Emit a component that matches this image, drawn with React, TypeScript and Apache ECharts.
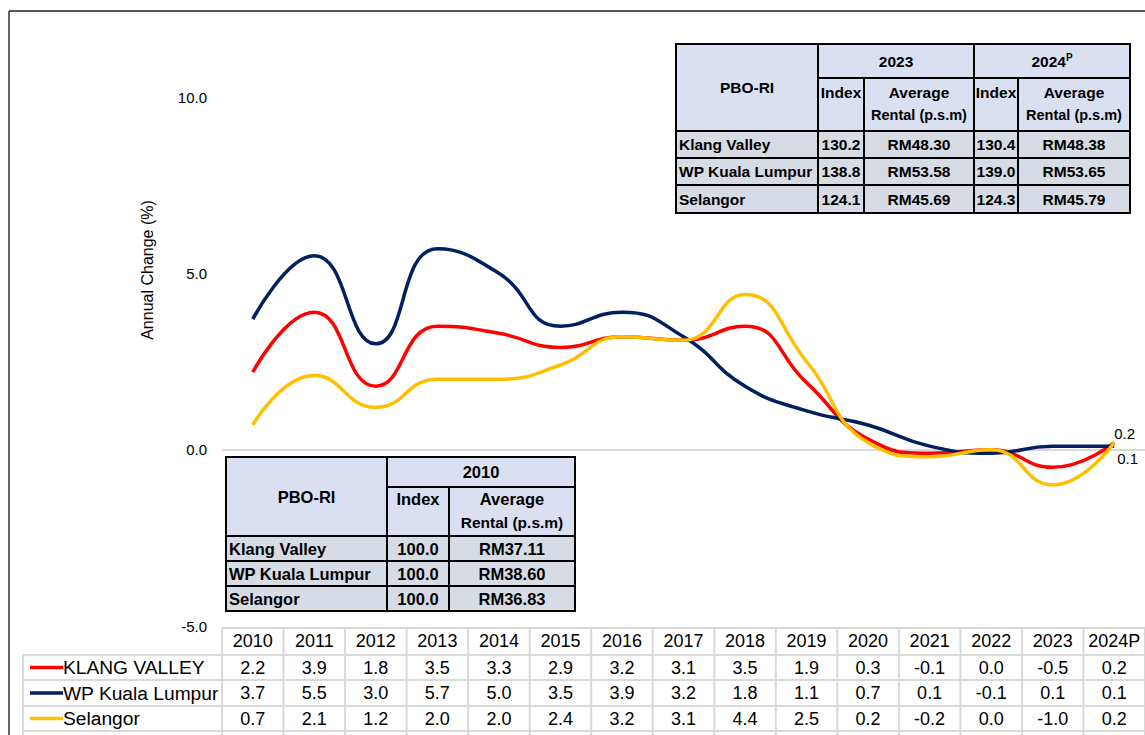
import React, { useEffect, useRef } from "react";
import * as echarts from "echarts";

// Annual change (%) of the purpose-built office rental index
const CATEGORIES = ["2010", "2011", "2012", "2013", "2014", "2015", "2016", "2017", "2018", "2019", "2020", "2021", "2022", "2023", "2024P"];
const KLANG_VALLEY = [2.2, 3.9, 1.8, 3.5, 3.3, 2.9, 3.2, 3.1, 3.5, 1.9, 0.3, -0.1, 0.0, -0.5, 0.2];
const WP_KUALA_LUMPUR = [3.7, 5.5, 3.0, 5.7, 5.0, 3.5, 3.9, 3.2, 1.8, 1.1, 0.7, 0.1, -0.1, 0.1, 0.1];
const SELANGOR = [0.7, 2.1, 1.2, 2.0, 2.0, 2.4, 3.2, 3.1, 4.4, 2.5, 0.2, -0.2, 0.0, -1.0, 0.2];
const SERIES_NAMES = ["KLANG VALLEY", "WP Kuala Lumpur", "Selangor"];
const SERIES_COLORS = ["#ff0000", "#002060", "#ffc000"];
const Y_MIN = -5;
const Y_MAX = 10;
const Y_STEP = 5;

// Index / average rental tables
const REGIONS = ["Klang Valley", "WP Kuala Lumpur", "Selangor"];
const INDEX_2010 = [100.0, 100.0, 100.0];
const RENTAL_2010 = ["RM37.11", "RM38.60", "RM36.83"];
const INDEX_2023 = [130.2, 138.8, 124.1];
const RENTAL_2023 = ["RM48.30", "RM53.58", "RM45.69"];
const INDEX_2024 = [130.4, 139.0, 124.3];
const RENTAL_2024 = ["RM48.38", "RM53.65", "RM45.79"];

const W = 1145;
const H = 735;
const FONT = "'Liberation Sans', Arial, sans-serif";
const HEAD_FILL = "#dae0f2";
const BODY_FILL = "#d6dbe4";

const rect = (x0: number, y0: number, x1: number, y1: number, fill: string) => ({
  type: "rect",
  silent: true,
  z: 10,
  shape: { x: x0, y: y0, width: x1 - x0, height: y1 - y0 },
  style: { fill, stroke: "#000", lineWidth: 2 },
});

const text = (x: number, y: number, t: string, o: any = {}) => ({
  type: "text",
  silent: true,
  z: 11,
  x,
  y,
  style: {
    text: t,
    fill: "#000",
    fontFamily: FONT,
    fontSize: o.size ?? 15,
    fontWeight: o.weight ?? "bold",
    align: o.align ?? "center",
    verticalAlign: "middle",
    rich: o.rich,
  },
});

const hline = (x0: number, x1: number, y: number, color: string, w = 2) => ({
  type: "line",
  silent: true,
  shape: { x1: x0, y1: y, x2: x1, y2: y },
  style: { stroke: color, lineWidth: w },
});
const vline = (x: number, y0: number, y1: number, color: string, w = 2) => ({
  type: "line",
  silent: true,
  shape: { x1: x, y1: y0, x2: x, y2: y1 },
  style: { stroke: color, lineWidth: w },
});

// Upper-right table: 2023 and 2024P
function topTable(): any[] {
  const xs = [676, 818, 864, 974, 1018, 1130];
  const ys = [44, 78, 131, 158, 185, 213];
  const g: any[] = [];
  const size = 15.5;
  g.push(rect(xs[0], ys[0], xs[1], ys[2], HEAD_FILL));
  g.push(rect(xs[1], ys[0], xs[3], ys[1], HEAD_FILL));
  g.push(rect(xs[3], ys[0], xs[5], ys[1], HEAD_FILL));
  for (let c = 1; c < 5; c++) g.push(rect(xs[c], ys[1], xs[c + 1], ys[2], HEAD_FILL));
  g.push(text((xs[0] + xs[1]) / 2, 87, "PBO-RI", { size }));
  g.push(text((xs[1] + xs[3]) / 2, 61, "2023", { size }));
  g.push(
    text((xs[3] + xs[5]) / 2, 61, "{a|2024}{s|P}", {
      size,
      rich: {
        a: { fontSize: size, fontWeight: "bold", fontFamily: FONT, lineHeight: 18 },
        s: { fontSize: 10, fontWeight: "bold", fontFamily: FONT, verticalAlign: "top", lineHeight: 18, padding: [0, 0, 10, 0] },
      },
    })
  );
  for (const c of [1, 3]) {
    g.push(text((xs[c] + xs[c + 1]) / 2, 92, "Index", { size }));
    g.push(text((xs[c + 1] + xs[c + 2]) / 2, 92, "Average", { size }));
    g.push(text((xs[c + 1] + xs[c + 2]) / 2, 115, "Rental (p.s.m)", { size: 14.5 }));
  }
  REGIONS.forEach((r, i) => {
    const y0 = ys[2 + i];
    const y1 = ys[3 + i];
    const cy = (y0 + y1) / 2;
    for (let c = 0; c < 5; c++) g.push(rect(xs[c], y0, xs[c + 1], y1, BODY_FILL));
    g.push(text(xs[0] + 3, cy, r, { size, align: "left" }));
    g.push(text((xs[1] + xs[2]) / 2, cy, INDEX_2023[i].toFixed(1), { size }));
    g.push(text((xs[2] + xs[3]) / 2, cy, RENTAL_2023[i], { size }));
    g.push(text((xs[3] + xs[4]) / 2, cy, INDEX_2024[i].toFixed(1), { size }));
    g.push(text((xs[4] + xs[5]) / 2, cy, RENTAL_2024[i], { size }));
  });
  return g;
}

// Lower-left table: 2010 base year
function baseTable(): any[] {
  const xs = [226, 387, 449, 575];
  const ys = [457, 487, 536, 561, 586, 611];
  const g: any[] = [];
  const size = 16.5;
  g.push(rect(xs[0], ys[0], xs[1], ys[2], HEAD_FILL));
  g.push(rect(xs[1], ys[0], xs[3], ys[1], HEAD_FILL));
  g.push(rect(xs[1], ys[1], xs[2], ys[2], HEAD_FILL));
  g.push(rect(xs[2], ys[1], xs[3], ys[2], HEAD_FILL));
  g.push(text((xs[0] + xs[1]) / 2, 497, "PBO-RI", { size }));
  g.push(text((xs[1] + xs[3]) / 2, 472, "2010", { size }));
  g.push(text((xs[1] + xs[2]) / 2, 499, "Index", { size }));
  g.push(text((xs[2] + xs[3]) / 2, 499, "Average", { size }));
  g.push(text((xs[2] + xs[3]) / 2, 522, "Rental (p.s.m)", { size: 15.5 }));
  REGIONS.forEach((r, i) => {
    const y0 = ys[2 + i];
    const y1 = ys[3 + i];
    const cy = (y0 + y1) / 2;
    for (let c = 0; c < 3; c++) g.push(rect(xs[c], y0, xs[c + 1], y1, BODY_FILL));
    g.push(text(xs[0] + 3, cy, r, { size, align: "left" }));
    g.push(text((xs[1] + xs[2]) / 2, cy, INDEX_2010[i].toFixed(1), { size }));
    g.push(text((xs[2] + xs[3]) / 2, cy, RENTAL_2010[i], { size }));
  });
  return g;
}

// Data table under the plot, columns follow the category axis
function dataTable(chart: echarts.ECharts): any[] {
  const c0 = chart.convertToPixel({ xAxisIndex: 0 }, 0) as number;
  const c1 = chart.convertToPixel({ xAxisIndex: 0 }, 1) as number;
  const step = c1 - c0;
  const left = c0 - step / 2;
  const right = left + step * CATEGORIES.length;
  const grey = "#d9d9d9";
  const rowsY = [655, 680, 706, 731];
  const g: any[] = [];
  g.push(hline(left, right, 628, grey));
  rowsY.forEach((y) => g.push(hline(23, right, y, grey)));
  for (let k = 0; k <= CATEGORIES.length; k++) g.push(vline(left + k * step, 628, H, grey));
  g.push(vline(23, 655, H, grey));
  const rows = [KLANG_VALLEY, WP_KUALA_LUMPUR, SELANGOR];
  rows.forEach((vals, r) => {
    const cy = (rowsY[r] + (rowsY[r + 1] ?? 757)) / 2;
    g.push(hline(30, 63, cy, SERIES_COLORS[r], 3.5));
    g.push(text(63, cy, SERIES_NAMES[r], { size: 19.2, weight: "normal", align: "left" }));
    vals.forEach((v, i) => {
      const cx = chart.convertToPixel({ xAxisIndex: 0 }, i) as number;
      g.push(text(cx, cy, v.toFixed(1), { size: 18, weight: "normal" }));
    });
  });
  return g;
}

export default function App() {
  const ref = useRef<HTMLDivElement>(null);
  useEffect(() => {
    if (!ref.current) return;
    const chart = echarts.init(ref.current, undefined, { renderer: "svg" });
    const seriesData = [KLANG_VALLEY, WP_KUALA_LUMPUR, SELANGOR];
    const endLabels = [
      { show: true, formatter: "0.2", offset: [-2, -9] },
      { show: true, formatter: "0.1", offset: [1, 12] },
      { show: false },
    ];
    chart.setOption({
      animation: false,
      backgroundColor: "#fff",
      grid: { left: 222, right: 0, top: 97, bottom: H - 626, containLabel: false },
      xAxis: {
        type: "category",
        data: CATEGORIES,
        boundaryGap: true,
        axisLine: { show: false, onZero: false },
        axisTick: { show: false },
        axisLabel: { color: "#000", fontSize: 18, fontFamily: FONT, margin: 6, interval: 0 },
        splitLine: { show: false },
      },
      yAxis: {
        type: "value",
        min: Y_MIN,
        max: Y_MAX,
        interval: Y_STEP,
        axisLine: { show: false },
        axisTick: { show: false },
        axisLabel: { color: "#000", fontSize: 15, fontFamily: FONT, margin: 15, formatter: (v: number) => v.toFixed(1) },
        splitLine: {
          show: true,
          lineStyle: { color: ["rgba(0,0,0,0)", "#d9d9d9", "rgba(0,0,0,0)", "rgba(0,0,0,0)"], width: 2 },
        },
      },
      series: seriesData.map((d, i) => ({
        name: SERIES_NAMES[i],
        type: "line",
        data: d,
        smooth: 0.5,
        symbol: "none",
        z: 3,
        lineStyle: { color: SERIES_COLORS[i], width: 3.5 },
        endLabel: { ...endLabels[i], color: "#000", fontSize: 15, fontFamily: FONT, distance: 2 },
      })),
    });
    chart.setOption({
      graphic: [
        hline(9, W, 11, "#555", 2),
        vline(9, 11, H, "#333", 1.5),
        {
          type: "text",
          silent: true,
          x: 147,
          y: 270,
          rotation: Math.PI / 2,
          style: { text: "Annual Change (%)", fill: "#000", fontFamily: FONT, fontSize: 16, align: "center", verticalAlign: "middle" },
        },
        ...dataTable(chart),
        ...topTable(),
        ...baseTable(),
      ],
    });
    return () => chart.dispose();
  }, []);
  return <div ref={ref} style={{ position: "absolute", left: 0, top: 0, width: W, height: H }} />;
}
